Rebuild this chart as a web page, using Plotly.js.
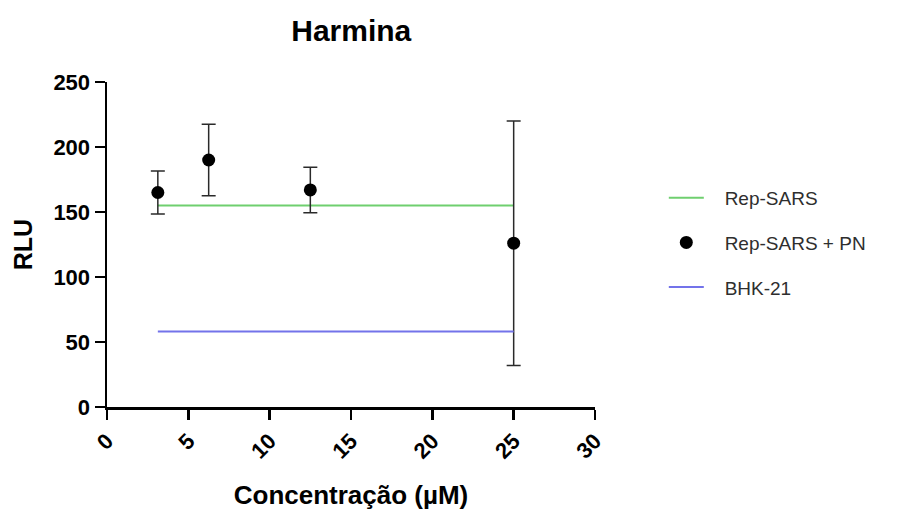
<!DOCTYPE html>
<html>
<head>
<meta charset="utf-8">
<script src="https://cdn.plot.ly/plotly-3.0.1.min.js"></script>
<style>
  html, body { margin: 0; padding: 0; background: #fff; }
  #chart { width: 922px; height: 510px; }
</style>
</head>
<body>
<div id="chart"></div>
<script>
// Harmina: luciferase signal (RLU) vs concentration (µM)
const concentrations = [3.125, 6.25, 12.5, 25];
const rluMean = [165, 190, 167, 126];
const rluError = [16.5, 27.5, 17.5, 94];
// Control levels drawn as horizontal references across the tested range
const repSarsLevel = 155;
const bhkLevel = 58;
const seriesNames = ['Rep-SARS', 'Rep-SARS + PN', 'BHK-21'];
const xTicks = [0, 5, 10, 15, 20, 25, 30];
const yTicks = [0, 50, 100, 150, 200, 250];

const xSpan = [concentrations[0], concentrations[concentrations.length - 1]];
const FONT = 'Liberation Sans, Arial, sans-serif';
// a little extra room between legend symbols and their labels
const legendLabel = s => '\u00a0\u00a0\u00a0' + s;

const traces = [
  {
    name: legendLabel(seriesNames[0]),
    legendgroup: 'g1',
    x: xSpan,
    y: [repSarsLevel, repSarsLevel],
    mode: 'lines',
    line: { color: '#6fcf6f', width: 2 },
    hoverinfo: 'skip'
  },
  {
    name: legendLabel(seriesNames[1]),
    legendgroup: 'g2',
    x: concentrations,
    y: rluMean,
    mode: 'markers',
    marker: { color: '#000', size: 13, symbol: 'circle' },
    error_y: { type: 'data', array: rluError, visible: true, color: '#2a2a2a', thickness: 1.5, width: 7 }
  },
  {
    name: legendLabel(seriesNames[2]),
    legendgroup: 'g3',
    x: xSpan,
    y: [bhkLevel, bhkLevel],
    mode: 'lines',
    line: { color: '#7373ea', width: 2 },
    hoverinfo: 'skip'
  }
];

const axisFont = { family: FONT, size: 22, color: '#000', weight: 'bold' };

const layout = {
  width: 922,
  height: 510,
  margin: { l: 107, r: 327, t: 82, b: 103 },
  paper_bgcolor: '#fff',
  plot_bgcolor: '#fff',
  font: { family: FONT, color: '#000' },
  title: {
    text: '<b>Harmina</b>',
    font: { family: FONT, size: 30, color: '#000' },
    x: 0.381, xanchor: 'center',
    y: 0.94, yanchor: 'middle'
  },
  xaxis: {
    range: [0, 30],
    tickvals: xTicks,
    ticktext: xTicks.map(String),
    tickangle: -45,
    showgrid: false,
    zeroline: false,
    showline: true,
    linecolor: '#000',
    linewidth: 2.5,
    ticks: 'outside',
    ticklen: 10,
    tickwidth: 2.5,
    tickcolor: '#000',
    tickfont: axisFont,
    automargin: false,
    title: {
      text: '<b>Concentração (µM)</b>',
      font: { family: FONT, size: 26, color: '#000' },
      standoff: 24
    }
  },
  yaxis: {
    range: [0, 250],
    tickvals: yTicks,
    ticktext: yTicks.map(String),
    showgrid: false,
    zeroline: false,
    showline: true,
    linecolor: '#000',
    linewidth: 2.5,
    ticks: 'outside',
    ticklen: 10,
    tickwidth: 2.5,
    tickcolor: '#000',
    tickfont: axisFont,
    automargin: false,
    title: {
      text: '<b>RLU</b>',
      font: { family: FONT, size: 25, color: '#000' },
      standoff: 14
    }
  },
  showlegend: true,
  legend: {
    x: 1.141, xanchor: 'left',
    y: 0.702, yanchor: 'top',
    font: { family: FONT, size: 19, color: '#2e2e2e' },
    bgcolor: 'rgba(0,0,0,0)',
    itemwidth: 35,
    tracegroupgap: 17
  }
};

Plotly.newPlot('chart', traces, layout, { displayModeBar: false, staticPlot: true });
</script>
</body>
</html>
